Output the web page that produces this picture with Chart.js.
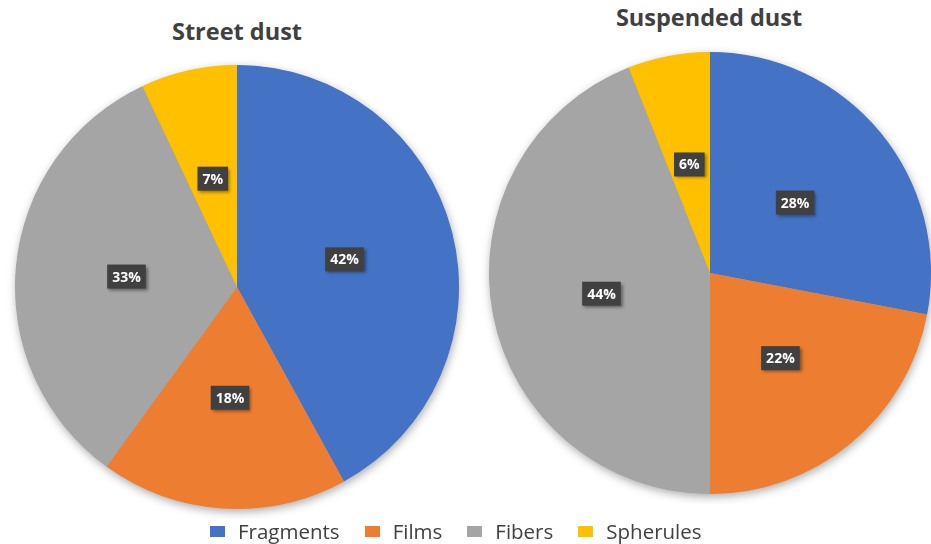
<!DOCTYPE html>
<html><head><meta charset="utf-8">
<script src="https://cdn.jsdelivr.net/npm/chart.js@4"></script>
<style>
html,body{margin:0;padding:0;background:#fff;overflow:hidden;width:931px;height:544px;}
.wrap{position:absolute;}
.title{position:absolute;font-family:"Open Sans",sans-serif;font-weight:bold;font-size:23.5px;line-height:30px;color:#404040;text-align:center;white-space:nowrap;}
#legend{position:absolute;left:210px;top:518px;display:flex;justify-content:flex-start;font-family:"Open Sans",sans-serif;font-size:20.5px;line-height:26px;color:#404040;}
#legend .it{display:flex;align-items:center;margin-right:25px;}
#legend .sw{width:15px;height:11px;margin-right:13px;}
</style></head>
<body>
<div class="title" style="left:137px;width:200px;top:16px;">Street dust</div>
<div class="title" style="left:559px;width:300px;top:2px;">Suspended dust</div>
<div class="wrap" style="left:5px;top:55px;width:464px;height:464px;"><canvas id="c1" width="464" height="464"></canvas></div>
<div class="wrap" style="left:479px;top:42px;width:462px;height:462px;"><canvas id="c2" width="462" height="462"></canvas></div>
<div id="legend"></div>
<script>
const categories = ["Fragments", "Films", "Fibers", "Spherules"];
const streetDust = [42, 18, 33, 7];
const suspendedDust = [28, 22, 44, 6];
const titles = ["Street dust", "Suspended dust"];
const colors = ["#4472C4", "#ED7D31", "#A5A5A5", "#FFC000"];

const shadowPlugin = {
  id: 'pieShadow',
  beforeDatasetsDraw(chart) {
    const arc = chart.getDatasetMeta(0).data[0];
    if (!arc) return;
    const ctx = chart.ctx;
    ctx.save();
    ctx.shadowColor = 'rgba(0,0,0,0.35)';
    ctx.shadowBlur = 10;
    ctx.shadowOffsetX = 1;
    ctx.shadowOffsetY = 3;
    ctx.fillStyle = '#A5A5A5';
    ctx.beginPath();
    ctx.arc(arc.x, arc.y, arc.outerRadius - 0.5, 0, Math.PI * 2);
    ctx.fill();
    ctx.restore();
  }
};

const labelPlugin = {
  id: 'pieLabels',
  afterDatasetsDraw(chart) {
    const ctx = chart.ctx;
    const meta = chart.getDatasetMeta(0);
    const data = chart.data.datasets[0].data;
    ctx.save();
    ctx.font = 'bold 14px "Open Sans", sans-serif';
    ctx.textAlign = 'center';
    ctx.textBaseline = 'middle';
    meta.data.forEach((arc, i) => {
      const p = arc.getCenterPoint();
      const txt = data[i] + '%';
      const w = ctx.measureText(txt).width + 10;
      const h = 24;
      ctx.save();
      ctx.shadowColor = 'rgba(0,0,0,0.4)';
      ctx.shadowBlur = 3;
      ctx.shadowOffsetX = 2;
      ctx.shadowOffsetY = 2;
      ctx.fillStyle = '#404040';
      ctx.fillRect(p.x - w / 2, p.y - h / 2, w, h);
      ctx.restore();
      ctx.fillStyle = '#ffffff';
      ctx.fillText(txt, p.x, p.y + 1);
    });
    ctx.restore();
  }
};

function makePie(id, values, title) {
  return new Chart(document.getElementById(id), {
    type: 'pie',
    data: {
      labels: categories,
      datasets: [{ label: title, data: values, backgroundColor: colors, borderWidth: 0 }]
    },
    options: {
      responsive: false,
      animation: false,
      layout: { padding: 10 },
      plugins: { legend: { display: false }, tooltip: { enabled: false }, title: { display: false } }
    },
    plugins: [shadowPlugin, labelPlugin]
  });
}
makePie('c1', streetDust, titles[0]);
makePie('c2', suspendedDust, titles[1]);

const lg = document.getElementById('legend');
categories.forEach((c, i) => {
  const it = document.createElement('div');
  it.className = 'it';
  const sw = document.createElement('div');
  sw.className = 'sw';
  sw.style.background = colors[i];
  const t = document.createElement('span');
  t.textContent = c;
  it.appendChild(sw); it.appendChild(t);
  lg.appendChild(it);
});
</script>
</body></html>
